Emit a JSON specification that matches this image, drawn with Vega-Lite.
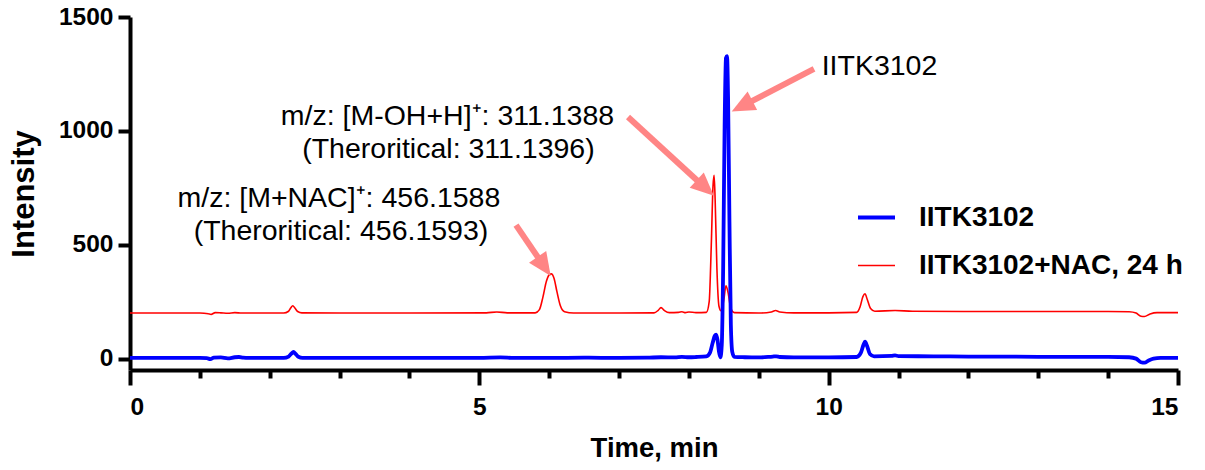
{
  "$schema": "https://vega.github.io/schema/vega-lite/v6.json",
  "width": 1048,
  "height": 353,
  "autosize": {"type": "none"},
  "padding": {"left": 130, "top": 17, "right": 27, "bottom": 100},
  "background": "white",
  "config": {
    "view": {"stroke": null},
    "font": "Liberation Sans",
    "legend": {
      "title": null,
      "orient": "none",
      "legendX": 726,
      "legendY": 180,
      "symbolType": "stroke",
      "symbolSize": 1369,
      "labelFont": "Liberation Sans",
      "labelFontSize": 28,
      "labelFontWeight": "bold",
      "labelColor": "black",
      "labelOffset": 22,
      "labelLimit": 500,
      "rowPadding": 14,
      "padding": 0
    }
  },
  "datasets": {
    "traces": [
      {"t": 0, "v": 200, "s": "IITK3102+NAC, 24 h"},
      {"t": 1.0, "v": 200, "s": "IITK3102+NAC, 24 h"},
      {"t": 1.12, "v": 197, "s": "IITK3102+NAC, 24 h"},
      {"t": 1.16, "v": 194, "s": "IITK3102+NAC, 24 h"},
      {"t": 1.22, "v": 202, "s": "IITK3102+NAC, 24 h"},
      {"t": 1.3, "v": 201, "s": "IITK3102+NAC, 24 h"},
      {"t": 1.4, "v": 199, "s": "IITK3102+NAC, 24 h"},
      {"t": 1.5, "v": 202, "s": "IITK3102+NAC, 24 h"},
      {"t": 1.6, "v": 200, "s": "IITK3102+NAC, 24 h"},
      {"t": 2.2, "v": 200, "s": "IITK3102+NAC, 24 h"},
      {"t": 2.27, "v": 208, "s": "IITK3102+NAC, 24 h"},
      {"t": 2.3, "v": 222, "s": "IITK3102+NAC, 24 h"},
      {"t": 2.33, "v": 232, "s": "IITK3102+NAC, 24 h"},
      {"t": 2.36, "v": 222, "s": "IITK3102+NAC, 24 h"},
      {"t": 2.4, "v": 207, "s": "IITK3102+NAC, 24 h"},
      {"t": 2.46, "v": 201, "s": "IITK3102+NAC, 24 h"},
      {"t": 3.0, "v": 200, "s": "IITK3102+NAC, 24 h"},
      {"t": 4.0, "v": 200, "s": "IITK3102+NAC, 24 h"},
      {"t": 5.1, "v": 201, "s": "IITK3102+NAC, 24 h"},
      {"t": 5.25, "v": 205, "s": "IITK3102+NAC, 24 h"},
      {"t": 5.4, "v": 201, "s": "IITK3102+NAC, 24 h"},
      {"t": 5.8, "v": 201, "s": "IITK3102+NAC, 24 h"},
      {"t": 5.86, "v": 215, "s": "IITK3102+NAC, 24 h"},
      {"t": 5.91, "v": 270, "s": "IITK3102+NAC, 24 h"},
      {"t": 5.96, "v": 340, "s": "IITK3102+NAC, 24 h"},
      {"t": 6.0, "v": 368, "s": "IITK3102+NAC, 24 h"},
      {"t": 6.03, "v": 372, "s": "IITK3102+NAC, 24 h"},
      {"t": 6.07, "v": 352, "s": "IITK3102+NAC, 24 h"},
      {"t": 6.11, "v": 295, "s": "IITK3102+NAC, 24 h"},
      {"t": 6.16, "v": 232, "s": "IITK3102+NAC, 24 h"},
      {"t": 6.22, "v": 206, "s": "IITK3102+NAC, 24 h"},
      {"t": 6.35, "v": 200, "s": "IITK3102+NAC, 24 h"},
      {"t": 7.0, "v": 200, "s": "IITK3102+NAC, 24 h"},
      {"t": 7.5, "v": 201, "s": "IITK3102+NAC, 24 h"},
      {"t": 7.56, "v": 212, "s": "IITK3102+NAC, 24 h"},
      {"t": 7.6, "v": 224, "s": "IITK3102+NAC, 24 h"},
      {"t": 7.65, "v": 211, "s": "IITK3102+NAC, 24 h"},
      {"t": 7.72, "v": 202, "s": "IITK3102+NAC, 24 h"},
      {"t": 7.85, "v": 203, "s": "IITK3102+NAC, 24 h"},
      {"t": 7.9, "v": 206, "s": "IITK3102+NAC, 24 h"},
      {"t": 7.95, "v": 202, "s": "IITK3102+NAC, 24 h"},
      {"t": 8.0, "v": 205, "s": "IITK3102+NAC, 24 h"},
      {"t": 8.1, "v": 202, "s": "IITK3102+NAC, 24 h"},
      {"t": 8.25, "v": 203, "s": "IITK3102+NAC, 24 h"},
      {"t": 8.29, "v": 250, "s": "IITK3102+NAC, 24 h"},
      {"t": 8.32, "v": 500, "s": "IITK3102+NAC, 24 h"},
      {"t": 8.345, "v": 760, "s": "IITK3102+NAC, 24 h"},
      {"t": 8.36, "v": 805, "s": "IITK3102+NAC, 24 h"},
      {"t": 8.375, "v": 700, "s": "IITK3102+NAC, 24 h"},
      {"t": 8.4, "v": 400, "s": "IITK3102+NAC, 24 h"},
      {"t": 8.43, "v": 230, "s": "IITK3102+NAC, 24 h"},
      {"t": 8.46, "v": 210, "s": "IITK3102+NAC, 24 h"},
      {"t": 8.5, "v": 260, "s": "IITK3102+NAC, 24 h"},
      {"t": 8.53, "v": 320, "s": "IITK3102+NAC, 24 h"},
      {"t": 8.56, "v": 290, "s": "IITK3102+NAC, 24 h"},
      {"t": 8.6, "v": 220, "s": "IITK3102+NAC, 24 h"},
      {"t": 8.65, "v": 202, "s": "IITK3102+NAC, 24 h"},
      {"t": 9.0, "v": 200, "s": "IITK3102+NAC, 24 h"},
      {"t": 9.18, "v": 205, "s": "IITK3102+NAC, 24 h"},
      {"t": 9.24, "v": 211, "s": "IITK3102+NAC, 24 h"},
      {"t": 9.3, "v": 205, "s": "IITK3102+NAC, 24 h"},
      {"t": 9.5, "v": 201, "s": "IITK3102+NAC, 24 h"},
      {"t": 10.0, "v": 201, "s": "IITK3102+NAC, 24 h"},
      {"t": 10.4, "v": 203, "s": "IITK3102+NAC, 24 h"},
      {"t": 10.45, "v": 228, "s": "IITK3102+NAC, 24 h"},
      {"t": 10.49, "v": 272, "s": "IITK3102+NAC, 24 h"},
      {"t": 10.52, "v": 285, "s": "IITK3102+NAC, 24 h"},
      {"t": 10.55, "v": 262, "s": "IITK3102+NAC, 24 h"},
      {"t": 10.6, "v": 220, "s": "IITK3102+NAC, 24 h"},
      {"t": 10.66, "v": 208, "s": "IITK3102+NAC, 24 h"},
      {"t": 10.95, "v": 211, "s": "IITK3102+NAC, 24 h"},
      {"t": 11.2, "v": 208, "s": "IITK3102+NAC, 24 h"},
      {"t": 12.0, "v": 207, "s": "IITK3102+NAC, 24 h"},
      {"t": 13.0, "v": 207, "s": "IITK3102+NAC, 24 h"},
      {"t": 14.0, "v": 207, "s": "IITK3102+NAC, 24 h"},
      {"t": 14.3, "v": 206, "s": "IITK3102+NAC, 24 h"},
      {"t": 14.4, "v": 200, "s": "IITK3102+NAC, 24 h"},
      {"t": 14.47, "v": 186, "s": "IITK3102+NAC, 24 h"},
      {"t": 14.52, "v": 185, "s": "IITK3102+NAC, 24 h"},
      {"t": 14.6, "v": 196, "s": "IITK3102+NAC, 24 h"},
      {"t": 14.7, "v": 202, "s": "IITK3102+NAC, 24 h"},
      {"t": 15.0, "v": 202, "s": "IITK3102+NAC, 24 h"},
      {"t": 0, "v": 3, "s": "IITK3102"},
      {"t": 1.0, "v": 3, "s": "IITK3102"},
      {"t": 1.1, "v": 2, "s": "IITK3102"},
      {"t": 1.15, "v": -2, "s": "IITK3102"},
      {"t": 1.2, "v": 4, "s": "IITK3102"},
      {"t": 1.3, "v": 5, "s": "IITK3102"},
      {"t": 1.4, "v": 1, "s": "IITK3102"},
      {"t": 1.5, "v": 6, "s": "IITK3102"},
      {"t": 1.56, "v": 7, "s": "IITK3102"},
      {"t": 1.62, "v": 4, "s": "IITK3102"},
      {"t": 1.7, "v": 3, "s": "IITK3102"},
      {"t": 2.2, "v": 3, "s": "IITK3102"},
      {"t": 2.27, "v": 9, "s": "IITK3102"},
      {"t": 2.31, "v": 22, "s": "IITK3102"},
      {"t": 2.34, "v": 29, "s": "IITK3102"},
      {"t": 2.37, "v": 21, "s": "IITK3102"},
      {"t": 2.41, "v": 8, "s": "IITK3102"},
      {"t": 2.47, "v": 3, "s": "IITK3102"},
      {"t": 3.0, "v": 3, "s": "IITK3102"},
      {"t": 4.0, "v": 3, "s": "IITK3102"},
      {"t": 5.0, "v": 3, "s": "IITK3102"},
      {"t": 5.3, "v": 5, "s": "IITK3102"},
      {"t": 5.5, "v": 3, "s": "IITK3102"},
      {"t": 6.0, "v": 3, "s": "IITK3102"},
      {"t": 6.5, "v": 4, "s": "IITK3102"},
      {"t": 7.0, "v": 3, "s": "IITK3102"},
      {"t": 7.4, "v": 4, "s": "IITK3102"},
      {"t": 7.6, "v": 6, "s": "IITK3102"},
      {"t": 7.8, "v": 5, "s": "IITK3102"},
      {"t": 7.9, "v": 8, "s": "IITK3102"},
      {"t": 8.0, "v": 6, "s": "IITK3102"},
      {"t": 8.1, "v": 7, "s": "IITK3102"},
      {"t": 8.25, "v": 10, "s": "IITK3102"},
      {"t": 8.3, "v": 25, "s": "IITK3102"},
      {"t": 8.34, "v": 70, "s": "IITK3102"},
      {"t": 8.37, "v": 100, "s": "IITK3102"},
      {"t": 8.39, "v": 105, "s": "IITK3102"},
      {"t": 8.41, "v": 80, "s": "IITK3102"},
      {"t": 8.43, "v": 30, "s": "IITK3102"},
      {"t": 8.45, "v": 5, "s": "IITK3102"},
      {"t": 8.47, "v": 60, "s": "IITK3102"},
      {"t": 8.49, "v": 400, "s": "IITK3102"},
      {"t": 8.51, "v": 1000, "s": "IITK3102"},
      {"t": 8.53, "v": 1320, "s": "IITK3102"},
      {"t": 8.545, "v": 1328, "s": "IITK3102"},
      {"t": 8.56, "v": 1150, "s": "IITK3102"},
      {"t": 8.58, "v": 600, "s": "IITK3102"},
      {"t": 8.6, "v": 150, "s": "IITK3102"},
      {"t": 8.62, "v": 30, "s": "IITK3102"},
      {"t": 8.65, "v": 8, "s": "IITK3102"},
      {"t": 8.8, "v": 6, "s": "IITK3102"},
      {"t": 9.0, "v": 5, "s": "IITK3102"},
      {"t": 9.2, "v": 9, "s": "IITK3102"},
      {"t": 9.25, "v": 10, "s": "IITK3102"},
      {"t": 9.3, "v": 7, "s": "IITK3102"},
      {"t": 9.5, "v": 5, "s": "IITK3102"},
      {"t": 10.0, "v": 5, "s": "IITK3102"},
      {"t": 10.4, "v": 7, "s": "IITK3102"},
      {"t": 10.46, "v": 25, "s": "IITK3102"},
      {"t": 10.5, "v": 62, "s": "IITK3102"},
      {"t": 10.52, "v": 74, "s": "IITK3102"},
      {"t": 10.55, "v": 55, "s": "IITK3102"},
      {"t": 10.59, "v": 20, "s": "IITK3102"},
      {"t": 10.65, "v": 10, "s": "IITK3102"},
      {"t": 10.9, "v": 12, "s": "IITK3102"},
      {"t": 10.95, "v": 14, "s": "IITK3102"},
      {"t": 11.0, "v": 11, "s": "IITK3102"},
      {"t": 11.5, "v": 10, "s": "IITK3102"},
      {"t": 12.0, "v": 9, "s": "IITK3102"},
      {"t": 13.0, "v": 8, "s": "IITK3102"},
      {"t": 14.0, "v": 8, "s": "IITK3102"},
      {"t": 14.3, "v": 6, "s": "IITK3102"},
      {"t": 14.4, "v": 0, "s": "IITK3102"},
      {"t": 14.47, "v": -16, "s": "IITK3102"},
      {"t": 14.52, "v": -18, "s": "IITK3102"},
      {"t": 14.58, "v": -8, "s": "IITK3102"},
      {"t": 14.65, "v": 0, "s": "IITK3102"},
      {"t": 14.75, "v": 3, "s": "IITK3102"},
      {"t": 15.0, "v": 3, "s": "IITK3102"}
    ],
    "arrows": [
      {"tx": 9.79, "ty": 1272, "hx": 8.768, "hy": 1110},
      {"tx": 7.128, "ty": 1061, "hx": 8.228, "hy": 751},
      {"tx": 5.525, "ty": 586, "hx": 5.923, "hy": 407}
    ],
    "notes": [
      {"x": 10.727, "y": 1245, "label": "IITK3102"},
      {"x": 4.544, "y": 1026, "label": "m/z: [M-OH+H]⁺: 311.1388"},
      {"x": 4.558, "y": 879, "label": "(Theroritical: 311.1396)"},
      {"x": 2.99, "y": 667, "label": "m/z: [M+NAC]⁺: 456.1588"},
      {"x": 3.02, "y": 521, "label": "(Theroritical: 456.1593)"}
    ]
  },
  "encoding": {
    "x": {
      "field": "t", "type": "quantitative",
      "scale": {"domain": [0, 15], "nice": false, "zero": false},
      "axis": {
        "title": "Time, min",
        "values": [0,1,2,3,4,5,6,7,8,9,10,11,12,13,14,15],
        "format": "d",
        "labelExpr": "datum.value % 5 === 0 ? datum.label : ''",
        "grid": false,
        "domainColor": "black", "domainWidth": 4,
        "tickColor": "black", "tickWidth": 4,
        "tickSize": {"condition": {"test": "datum.value % 5 === 0", "value": 15}, "value": 8},
        "labelFont": "Liberation Sans", "labelFontSize": 24.5, "labelFontWeight": "bold", "labelColor": "black",
        "labelPadding": 10,
        "titleFont": "Liberation Sans", "titleFontSize": 27.5, "titleFontWeight": "bold", "titleColor": "black",
        "titlePadding": 16
      }
    },
    "y": {
      "field": "v", "type": "quantitative",
      "scale": {"domain": [-50, 1500], "nice": false, "zero": false},
      "axis": {
        "title": "Intensity",
        "values": [0, 500, 1000, 1500],
        "format": "d",
        "grid": false,
        "domainColor": "black", "domainWidth": 4,
        "tickColor": "black", "tickWidth": 4, "tickSize": 12,
        "labelFont": "Liberation Sans", "labelFontSize": 24.5, "labelFontWeight": "bold", "labelColor": "black",
        "labelPadding": 5,
        "titleFont": "Liberation Sans", "titleFontSize": 31, "titleFontWeight": "bold", "titleColor": "black",
        "titlePadding": 18
      }
    }
  },
  "layer": [
    {
      "data": {"name": "traces"},
      "transform": [{"filter": "datum.s !== 'IITK3102'"}],
      "mark": {"type": "line", "interpolate": "monotone"},
      "encoding": {
        "color": {
          "field": "s", "type": "nominal",
          "scale": {"domain": ["IITK3102", "IITK3102+NAC, 24 h"], "range": ["#0000FF", "#FF0000"]}
        },
        "strokeWidth": {
          "field": "s", "type": "nominal",
          "scale": {"domain": ["IITK3102", "IITK3102+NAC, 24 h"], "range": [3.8, 1.6]}
        }
      }
    },
    {
      "data": {"name": "traces"},
      "transform": [{"filter": "datum.s === 'IITK3102'"}],
      "mark": {"type": "line", "interpolate": "monotone"},
      "encoding": {
        "color": {
          "field": "s", "type": "nominal",
          "scale": {"domain": ["IITK3102", "IITK3102+NAC, 24 h"], "range": ["#0000FF", "#FF0000"]}
        },
        "strokeWidth": {
          "field": "s", "type": "nominal",
          "scale": {"domain": ["IITK3102", "IITK3102+NAC, 24 h"], "range": [3.8, 1.6]}
        }
      }
    },
    {
      "data": {"name": "arrows"},
      "mark": {"type": "rule", "color": "#FF8585", "strokeWidth": 6, "strokeCap": "butt"},
      "encoding": {
        "x": {"field": "tx", "type": "quantitative"},
        "y": {"field": "ty", "type": "quantitative"},
        "x2": {"field": "hx"},
        "y2": {"field": "hy"}
      }
    },
    {
      "data": {"name": "arrows"},
      "transform": [
        {"calculate": "atan2((datum.hx - datum.tx) * 69.867, (datum.hy - datum.ty) * 0.22774) * 180 / PI", "as": "ang"}
      ],
      "mark": {"type": "point", "shape": "M0,-1L0.85,0.9L-0.85,0.9Z", "filled": true, "color": "#FF8585", "opacity": 1, "size": 600, "strokeWidth": 0},
      "encoding": {
        "x": {"field": "hx", "type": "quantitative"},
        "y": {"field": "hy", "type": "quantitative"},
        "angle": {"field": "ang", "type": "quantitative", "scale": null}
      }
    },
    {
      "data": {"name": "notes"},
      "mark": {"type": "text", "font": "Liberation Sans", "fontSize": 28.5, "color": "black", "align": "center", "baseline": "alphabetic"},
      "encoding": {
        "x": {"field": "x", "type": "quantitative"},
        "y": {"field": "y", "type": "quantitative"},
        "text": {"field": "label"}
      }
    }
  ]
}
